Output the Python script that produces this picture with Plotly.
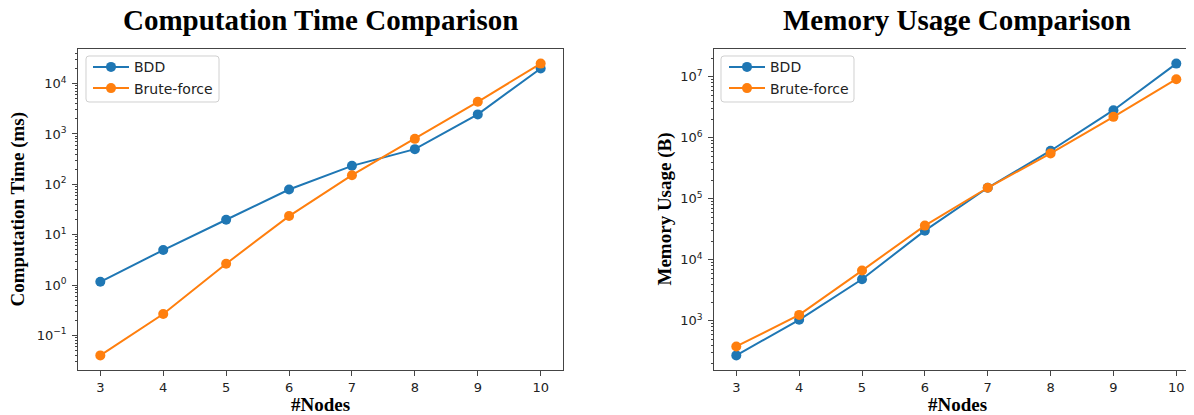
import plotly.graph_objects as go
import numpy as np

nodes = [3, 4, 5, 6, 7, 8, 9, 10]
time_bdd = [1.16, 4.95, 19.8, 79, 233, 500, 2450, 20000]
time_brute = [0.040, 0.266, 2.65, 23.4, 152, 800, 4350, 25000]
mem_bdd = [271, 1040, 4810, 30100, 152000, 615000, 2.84e6, 1.65e7]
mem_brute = [380, 1250, 6670, 36400, 152000, 556000, 2.21e6, 9.16e6]

series_names = ["BDD", "Brute-force"]
colors = ["#1f77b4", "#ff7f0e"]

# page body has an 8px default margin; lay out in page pixels and shift
OFF = 8
W, H = 1194 - OFF, 415 - OFF


def px_x(p):
    return (p - OFF) / W


def px_y(p):
    return 1 - (p - OFF) / H


def log_range(*arrs):
    v = np.log10(np.concatenate([np.asarray(a, float) for a in arrs]))
    lo, hi = v.min(), v.max()
    m = (hi - lo) * 0.05
    return [lo - m, hi + m]


def sup_label(e):
    return "10<sup>%s</sup>" % ("\u2212" + str(-e) if e < 0 else str(e))


fig = go.Figure()

for vals, name, col in zip([time_bdd, time_brute], series_names, colors):
    fig.add_trace(go.Scatter(x=nodes, y=vals, name=name, mode="lines+markers",
                             line=dict(color=col, width=2),
                             marker=dict(color=col, size=10, symbol="circle"),
                             xaxis="x", yaxis="y", legend="legend"))
for vals, name, col in zip([mem_bdd, mem_brute], series_names, colors):
    fig.add_trace(go.Scatter(x=nodes, y=vals, name=name, mode="lines+markers",
                             line=dict(color=col, width=2),
                             marker=dict(color=col, size=10, symbol="circle"),
                             xaxis="x2", yaxis="y2", legend="legend2"))

tick_font = dict(family="DejaVu Sans", size=13, color="#222")
line_col = "#444"

left_dec = list(range(-1, 5))
right_dec = list(range(3, 8))


def minor_vals(lo, hi):
    out = []
    for d in range(lo, hi + 1):
        for k in range(2, 10):
            out.append(k * 10.0 ** d)
    return out


x_common = dict(tickmode="array", tickvals=nodes, ticktext=[str(n) for n in nodes],
                ticks="outside", ticklen=5, tickcolor=line_col, tickfont=tick_font,
                showgrid=False, zeroline=False, showline=True, linecolor=line_col,
                linewidth=1.2, mirror=True, automargin=False)

yr1 = log_range(time_bdd, time_brute)
yr2 = log_range(mem_bdd, mem_brute)

leg_font = dict(family="DejaVu Sans", size=14, color="#222")

fig.update_layout(
    template="none",
    width=W, height=H,
    margin=dict(l=0, r=0, t=0, b=0, pad=0),
    paper_bgcolor="white", plot_bgcolor="white",
    xaxis=dict(domain=[px_x(78.3), px_x(562.7)], range=[2.65, 10.35], anchor="y", **x_common),
    xaxis2=dict(domain=[px_x(714.3), 1.0], range=[2.65, 10 + (1194 - 1176.3) / 62.86],
                anchor="y2", **x_common),
    yaxis=dict(type="log", domain=[px_y(370), px_y(49)], range=yr1, anchor="x",
               tickmode="array", tickvals=[10.0 ** e for e in left_dec],
               ticktext=[sup_label(e) for e in left_dec],
               ticks="outside", ticklen=5, tickcolor=line_col, tickfont=tick_font,
               minor=dict(tickmode="array", tickvals=minor_vals(-2, 4), ticks="outside",
                          ticklen=2.5, tickcolor=line_col, showgrid=False),
               showgrid=False, zeroline=False, showline=True, linecolor=line_col,
               linewidth=1.2, mirror=True, ticklabelstandoff=3, automargin=False),
    yaxis2=dict(type="log", domain=[px_y(370), px_y(49)], range=yr2, anchor="x2",
                tickmode="array", tickvals=[10.0 ** e for e in right_dec],
                ticktext=[sup_label(e) for e in right_dec],
                ticks="outside", ticklen=5, tickcolor=line_col, tickfont=tick_font,
                minor=dict(tickmode="array", tickvals=minor_vals(2, 7), ticks="outside",
                           ticklen=2.5, tickcolor=line_col, showgrid=False),
                showgrid=False, zeroline=False, showline=True, linecolor=line_col,
                linewidth=1.2, mirror=False, ticklabelstandoff=3, automargin=False),
    legend=dict(x=px_x(88), y=px_y(51.3), xanchor="left", yanchor="top",
                bgcolor="rgba(0,0,0,0)", borderwidth=0, font=leg_font,
                itemwidth=36, tracegroupgap=0),
    legend2=dict(x=px_x(724), y=px_y(51.3), xanchor="left", yanchor="top",
                 bgcolor="rgba(0,0,0,0)", borderwidth=0, font=leg_font,
                 itemwidth=36, tracegroupgap=0),
    showlegend=True,
)


def rounded_box(x0, y0, x1, y1, r=3):
    # pixel coords (page) -> paper path with rounded corners
    def P(x, y):
        return "%f,%f" % (px_x(x), px_y(y))
    return ("M " + P(x0 + r, y0) + " L " + P(x1 - r, y0) + " Q " + P(x1, y0) + " " + P(x1, y0 + r) +
            " L " + P(x1, y1 - r) + " Q " + P(x1, y1) + " " + P(x1 - r, y1) +
            " L " + P(x0 + r, y1) + " Q " + P(x0, y1) + " " + P(x0, y1 - r) +
            " L " + P(x0, y0 + r) + " Q " + P(x0, y0) + " " + P(x0 + r, y0) + " Z")


for bx in [(86, 56, 219, 102), (721, 56, 854, 102)]:
    fig.add_shape(type="path", xref="paper", yref="paper", path=rounded_box(*bx),
                  line=dict(color="#d0d0d0", width=1), fillcolor="rgba(255,255,255,0.85)",
                  layer="below")

title_font = dict(family="Liberation Serif", size=29, color="black")
label_font = dict(family="Liberation Serif", size=19, color="black")

ann = [
    dict(text="<b>Computation Time Comparison</b>", x=px_x(320.5), y=px_y(20), font=title_font),
    dict(text="<b>Memory Usage Comparison</b>", x=px_x(956.5), y=px_y(20), font=title_font),
    dict(text="<b>#Nodes</b>", x=px_x(320.5), y=px_y(404), font=label_font),
    dict(text="<b>#Nodes</b>", x=px_x(957), y=px_y(404), font=label_font),
    dict(text="<b>Computation Time (ms)</b>", x=px_x(17), y=px_y(209.5), font=label_font, textangle=-90),
    dict(text="<b>Memory Usage (B)</b>", x=px_x(664), y=px_y(209.5), font=label_font, textangle=-90),
]
for a in ann:
    fig.add_annotation(xref="paper", yref="paper", showarrow=False,
                       xanchor="center", yanchor="middle", **a)

fig.write_html("out.html")
